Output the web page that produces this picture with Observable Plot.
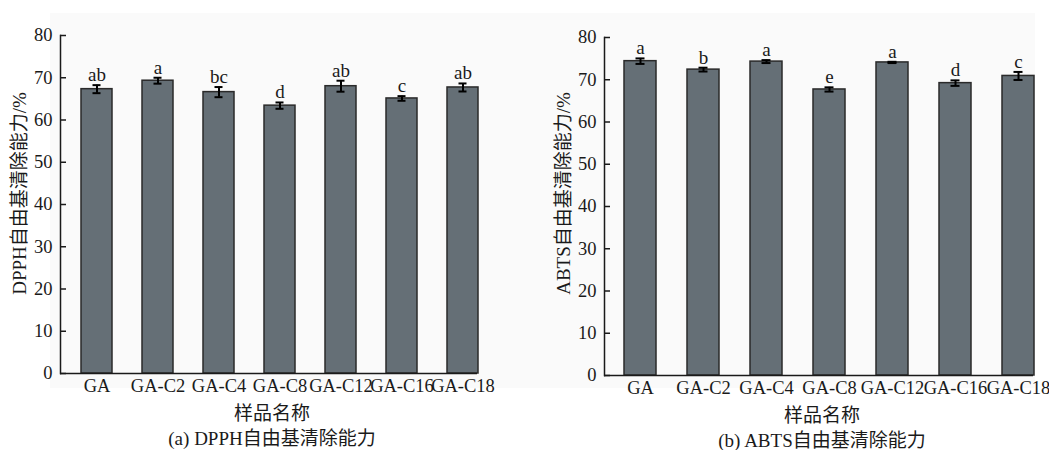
<!DOCTYPE html>
<html>
<head>
<meta charset="utf-8">
<script src="https://cdn.jsdelivr.net/npm/d3@7"></script>
<script src="https://cdn.jsdelivr.net/npm/@observablehq/plot@0.6"></script>
<style>
  html, body { margin: 0; padding: 0; background: #ffffff; }
  #root { position: relative; width: 1049px; height: 450px; overflow: hidden; }
  #bg { position: absolute; left: 50px; top: 13px; width: 985px; height: 375px; background: #fafafa; }
  #a { position: absolute; left: 0px; top: 0px; }
  #b { position: absolute; left: 530px; top: 0px; }
</style>
</head>
<body>
<div id="root">
  <div id="bg"></div>
  <div id="a"></div>
  <div id="b"></div>
</div>
<script>
// ---- data ----
const samples = ["GA", "GA-C2", "GA-C4", "GA-C8", "GA-C12", "GA-C16", "GA-C18"];

const dpphMean = [67.3, 69.3, 66.6, 63.4, 68.0, 65.1, 67.7];
const dpphErr  = [0.95, 0.7, 1.2, 0.75, 1.3, 0.55, 0.95];
const dpphSig  = ["ab", "a", "bc", "d", "ab", "c", "ab"];

const abtsMean = [74.4, 72.4, 74.3, 67.7, 74.1, 69.2, 70.9];
const abtsErr  = [0.65, 0.45, 0.35, 0.5, 0.15, 0.65, 0.95];
const abtsSig  = ["a", "b", "a", "e", "a", "d", "c"];

const yTicks = [0, 10, 20, 30, 40, 50, 60, 70, 80];
const xTitle = "样品名称";
const yTitleA = "DPPH自由基清除能力/%";
const yTitleB = "ABTS自由基清除能力/%";
const captionA = "(a) DPPH自由基清除能力";
const captionB = "(b) ABTS自由基清除能力";

function makeChart(mean, err, sig, yTitle, caption, opts) {
  const data = samples.map((s, i) => ({name: s, v: mean[i], e: err[i], sig: sig[i]}));
  const ink = "#1a1a1a";
  return Plot.plot({
    width: opts.width,
    height: 450,
    marginLeft: opts.ml,
    marginRight: opts.mr,
    marginTop: opts.mt,
    marginBottom: opts.mb,
    style: {
      background: "transparent",
      fontFamily: "'Liberation Serif', 'Noto Sans CJK SC', serif",
      fontSize: "18.5px",
      color: ink
    },
    x: {domain: samples, paddingInner: 0.5, paddingOuter: 0.125, align: 1, label: null},
    y: {domain: [0, 80], label: null},
    marks: [
      Plot.barY(data, {x: "name", y: "v", fill: "#656f76", stroke: "#2a2a2a", strokeWidth: 1.5}),
      Plot.ruleX(data, {x: "name", y1: d => d.v - d.e, y2: d => d.v + d.e, stroke: "#000", strokeWidth: 2}),
      Plot.tickY(data, {x: "name", y: d => d.v + d.e, stroke: "#000", strokeWidth: 2, insetLeft: 11.5, insetRight: 11.5}),
      Plot.tickY(data, {x: "name", y: d => d.v - d.e, stroke: "#000", strokeWidth: 2, insetLeft: 11.5, insetRight: 11.5}),
      Plot.text(data, {x: "name", y: d => d.v + d.e, text: "sig", dy: -4, lineAnchor: "bottom", fill: ink, fontSize: 19}),
      Plot.ruleY([0], {stroke: ink, strokeWidth: 1.5}),
      Plot.frame({anchor: "left", stroke: ink, strokeWidth: 1.5}),
      Plot.axisY({ticks: yTicks, tickSize: 6, dx: 6, tickPadding: 8, label: null, stroke: ink, strokeWidth: 1.5, fill: ink}),
      Plot.axisX({tickSize: 0, tickPadding: 5, label: null, fill: ink}),
      Plot.text([yTitle], {frameAnchor: "left", textAnchor: "middle", rotate: -90, dx: -41, dy: opts.ydy, lineAnchor: "middle", fill: ink, fontSize: 19}),
      Plot.text([xTitle], {frameAnchor: "bottom", dx: 3, dy: 40, lineAnchor: "middle", fill: ink, fontSize: 19}),
      Plot.text([caption], {frameAnchor: "bottom", dx: 3, dy: 65, lineAnchor: "middle", fill: ink, fontSize: 19})
    ]
  });
}

document.getElementById("a").append(
  makeChart(dpphMean, dpphErr, dpphSig, yTitleA, captionA, {width: 530, ml: 60, mr: 53, mt: 35, mb: 77, ydy: -11})
);
document.getElementById("b").append(
  makeChart(abtsMean, abtsErr, abtsSig, yTitleB, captionB, {width: 519, ml: 74, mr: 16, mt: 37, mb: 75, ydy: -13})
);
</script>
</body>
</html>
